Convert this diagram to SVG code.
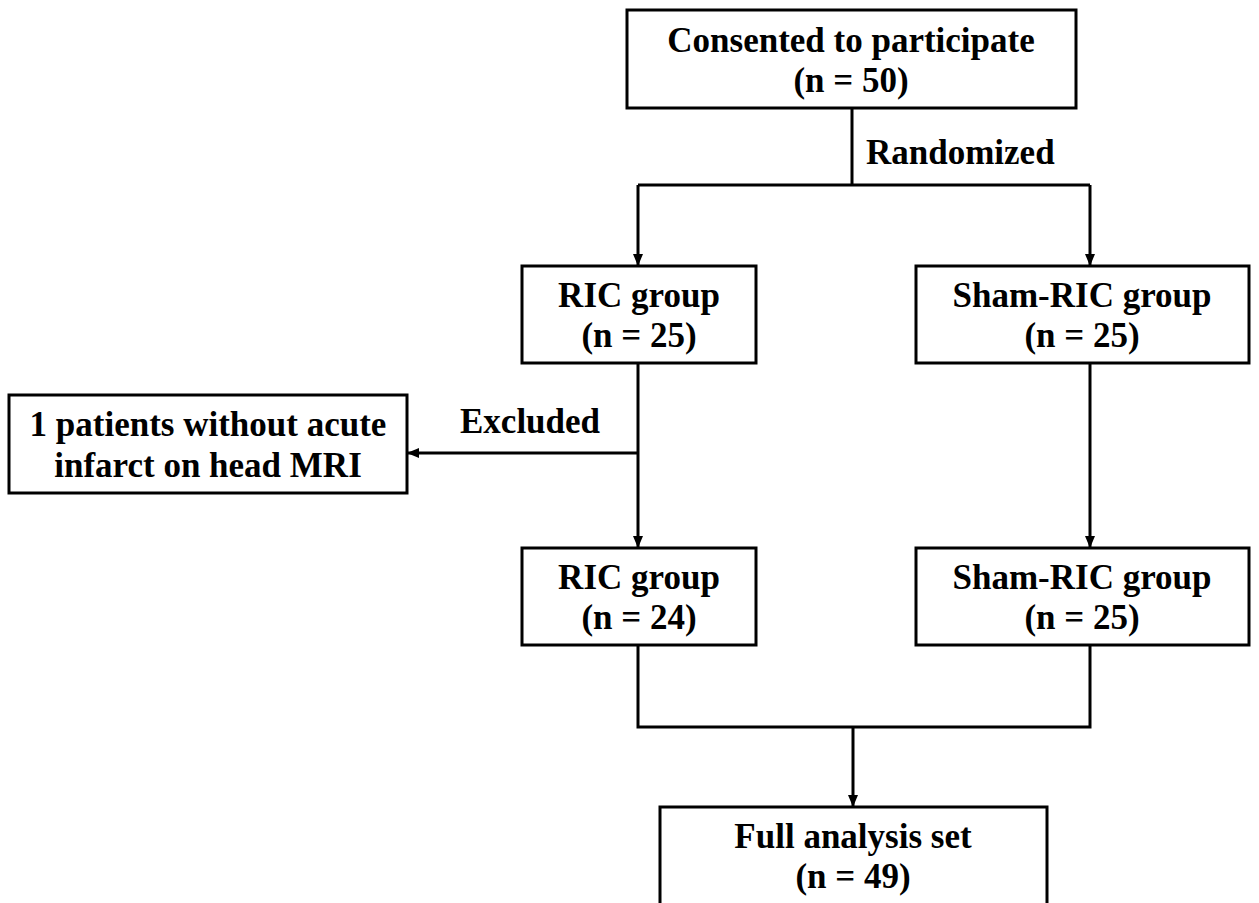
<svg xmlns="http://www.w3.org/2000/svg" width="1259" height="903" viewBox="0 0 1259 903">
<style>
.box{fill:#fff;stroke:#000;stroke-width:3}
.t{font-family:"Liberation Serif","Times New Roman",serif;font-weight:bold;font-size:35px;fill:#000;text-anchor:middle}
.lbl{font-family:"Liberation Serif","Times New Roman",serif;font-weight:bold;font-size:35px;fill:#000}
.c{fill:none;stroke:#000;stroke-width:3}
</style>
<defs>
<marker id="ah" markerWidth="12" markerHeight="10" refX="11" refY="5" orient="auto" markerUnits="userSpaceOnUse">
<path d="M0,0 L12,5 L0,10 Z" fill="#000"/>
</marker>
</defs>
<rect width="1259" height="903" fill="#fff"/>
<g id="connectors">
<path class="c" d="M852,108 V185"/>
<path class="c" d="M638,185 H1090"/>
<path class="c" d="M638,185 V265" marker-end="url(#ah)"/>
<path class="c" d="M1090,185 V265" marker-end="url(#ah)"/>
<path class="c" d="M638,363 V547" marker-end="url(#ah)"/>
<path class="c" d="M638,453 H408" marker-end="url(#ah)"/>
<path class="c" d="M1090,363 V547" marker-end="url(#ah)"/>
<path class="c" d="M638,645 V727 H1090 V645"/>
<path class="c" d="M853,727 V806" marker-end="url(#ah)"/>
<text class="lbl" x="866" y="164">Randomized</text>
<text class="lbl" x="460" y="433">Excluded</text>
</g>
<g id="consented">
<rect class="box" x="627" y="10" width="449" height="98"/>
<text class="t" x="851" y="52">Consented to participate</text>
<text class="t" x="851" y="92">(n = 50)</text>
</g>
<g id="ric1">
<rect class="box" x="522" y="266" width="234" height="97"/>
<text class="t" x="639" y="307">RIC group</text>
<text class="t" x="639" y="347">(n = 25)</text>
</g>
<g id="sham1">
<rect class="box" x="916" y="266" width="333" height="97"/>
<text class="t" x="1082" y="307">Sham-RIC group</text>
<text class="t" x="1082" y="347">(n = 25)</text>
</g>
<g id="excluded">
<rect class="box" x="9" y="395" width="398" height="98"/>
<text class="t" x="208" y="436">1 patients without acute</text>
<text class="t" x="208" y="477">infarct on head MRI</text>
</g>
<g id="ric2">
<rect class="box" x="522" y="548" width="234" height="97"/>
<text class="t" x="639" y="589">RIC group</text>
<text class="t" x="639" y="629">(n = 24)</text>
</g>
<g id="sham2">
<rect class="box" x="916" y="548" width="333" height="97"/>
<text class="t" x="1082" y="589">Sham-RIC group</text>
<text class="t" x="1082" y="629">(n = 25)</text>
</g>
<g id="full">
<rect class="box" x="660" y="807" width="387" height="110"/>
<text class="t" x="853" y="848">Full analysis set</text>
<text class="t" x="853" y="888">(n = 49)</text>
</g>
</svg>
